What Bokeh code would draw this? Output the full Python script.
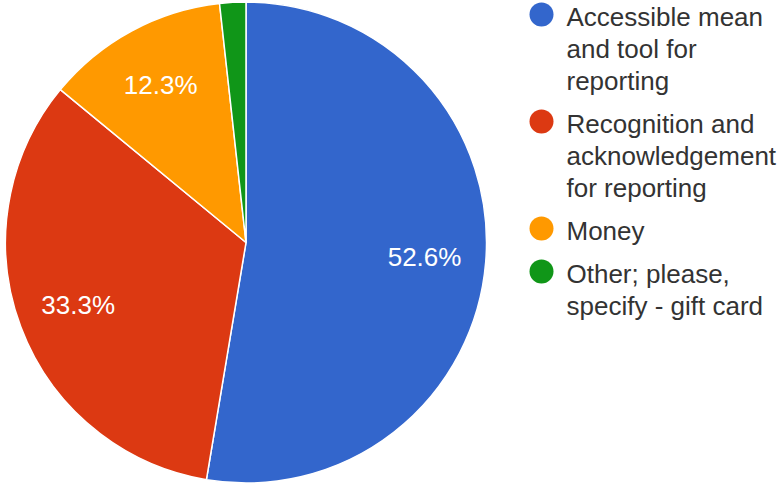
import numpy as np
from bokeh.plotting import figure
from bokeh.models import Range1d, ColumnDataSource
from bokeh.core.properties import value
from bokeh.embed import file_html
from bokeh.resources import INLINE

# ---- data ----
categories = [
    "Accessible mean and tool for reporting",
    "Recognition and acknowledgement for reporting",
    "Money",
    "Other; please, specify - gift card",
]
legend_lines = [
    ["Accessible mean", "and tool for", "reporting"],
    ["Recognition and", "acknowledgement", "for reporting"],
    ["Money"],
    ["Other; please,", "specify - gift card"],
]
counts = [30, 19, 7, 1]
colors = ["#3366CC", "#DC3912", "#FF9900", "#109618"]

FONT = "Liberation Sans"
W, H = 777, 484

p = figure(width=W, height=H, x_range=Range1d(0, W), y_range=Range1d(0, H),
           output_backend="svg", toolbar_location=None, min_border=0)
p.axis.visible = False
p.grid.visible = False
p.outline_line_color = None

# ---- pie ----
cx, cy, R = 245.5, H - 242, 240.5
total = float(sum(counts))
frac = np.array(counts) / total
cum = np.concatenate([[0.0], np.cumsum(frac)])
start = np.pi / 2 - 2 * np.pi * cum[:-1]
end = np.pi / 2 - 2 * np.pi * cum[1:]
src = ColumnDataSource(dict(start=start, end=end, color=colors))
p.wedge(x=cx, y=cy, radius=R, radius_units="screen", start_angle="start", end_angle="end",
        direction="clock", fill_color="color", line_color="white", line_width=1.5, source=src)

mid = (start + end) / 2
show = frac > 0.05
lr = 0.745 * R
lab = ColumnDataSource(dict(
    x=(cx + lr * np.cos(mid))[show],
    y=(cy + lr * np.sin(mid))[show],
    t=[f"{f*100:.1f}%" for f in frac[show]],
))
p.text(x="x", y="y", text="t", source=lab, text_color="white", text_font=value(FONT),
       text_font_size="26px", text_align="center", text_baseline="middle")

# ---- legend ----
x_dot, x_txt = 541, 566
pitch, gap, first = 32, 11, 16
dots_x, dots_y, tx, ty, tt = [], [], [], [], []
b = first
for i, lines in enumerate(legend_lines):
    dots_x.append(x_dot)
    dots_y.append(H - (b - 2))
    for j, ln in enumerate(lines):
        tx.append(x_txt)
        ty.append(H - b)
        tt.append(ln)
        if j < len(lines) - 1:
            b += pitch
    b += pitch + gap
p.scatter(x=dots_x, y=dots_y, size=24, marker="circle", fill_color=colors, line_color=None)
p.text(x=tx, y=ty, text=tt, text_color="#333333", text_font=value(FONT),
       text_font_size="26px", text_align="left", text_baseline="middle")

open("out.html", "w").write(file_html(p, INLINE))
